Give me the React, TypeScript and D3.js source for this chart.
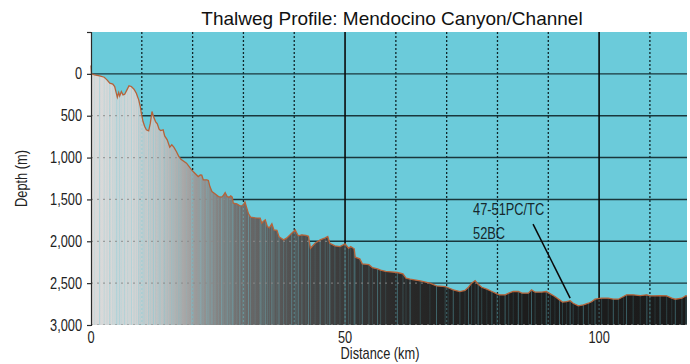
import React, { useEffect, useRef } from 'react';
import * as d3 from 'd3';

// thalweg profile (distance km / depth m)
const DIST_KM: number[] = [
  0, 0.1, 0.7, 1.7, 2.6, 3.15, 3.7, 4.3, 4.66, 4.98, 5.18, 5.45, 5.65, 5.97, 6.3, 6.63, 7.15, 7.48, 7.94, 8.46,
  8.92, 9.39, 9.7, 9.9, 10.24, 10.57, 10.89, 11.35, 11.68, 12.0, 12.3, 12.7, 13.05, 13.4, 13.7, 14.2, 14.5, 15.0,
  15.5, 15.9, 16.3, 16.8, 17.3, 17.7, 18.8, 19.8, 20.1, 21.1, 21.5, 21.8, 22.1, 22.8, 23.1, 23.4, 23.8, 24.4, 25.1,
  25.7, 26.0, 26.4, 26.8, 27.2, 27.5, 27.8, 28.0, 28.7, 29.3, 29.9, 30.3, 31.0, 31.4, 32.3, 33.3, 33.6, 33.9, 34.3,
  34.7, 35.1, 35.6, 36.0, 36.6, 37.0, 37.9, 38.5, 39.5, 40.2, 40.5, 40.8, 41.5, 42.3, 42.8, 43.2, 44.1, 45.1, 46.1,
  46.6, 47.0, 48.0, 49.0, 50.0, 50.7, 51.1, 51.8, 52.0, 52.9, 53.4, 54.7, 55.4, 56.4, 57.0, 58.0, 60.3, 61.4, 62.0,
  62.8, 64.8, 66.7, 68.0, 69.7, 70.3, 71.3, 72.6, 73.6, 74.3, 74.9, 75.6, 76.2, 76.9, 77.9, 78.9, 79.9, 80.4, 81.5,
  82.2, 83.1, 84.1, 84.8, 86.1, 86.7, 87.4, 88.7, 89.6, 90.4, 91.3, 92.2, 92.8, 93.6, 94.3, 94.9, 95.9, 96.9, 97.9,
  98.6, 99.2, 100.5, 101.8, 102.8, 103.8, 104.8, 105.4, 106.7, 108.1, 109.4, 110.0, 111.0, 112.0, 113.3, 114.3,
  115.0, 116.3, 117.0, 117.3,
];
const DEPTH_M: number[] = [
  -100, 0, 12, 24, 40, 72, 111, 123, 151, 231, 279, 223, 263, 211, 251, 243, 183, 143, 151, 183,
  231, 311, 390, 470, 570, 629, 669, 681, 589, 450, 510, 570, 597, 661, 677, 669, 741, 788,
  876, 848, 876, 928, 988, 1019, 1067, 1147, 1167, 1227, 1207, 1210, 1266, 1266, 1274, 1346, 1406, 1433, 1466,
  1473, 1457, 1418, 1466, 1473, 1457, 1473, 1545, 1553, 1577, 1575, 1530, 1672, 1712, 1720, 1724, 1784, 1764, 1744,
  1824, 1840, 1790, 1864, 1870, 1945, 1983, 1963, 1903, 1864, 1903, 1935, 1923, 1930, 1940, 2083, 2023, 1983, 1960,
  1943, 2023, 2055, 2063, 2031, 2083, 2063, 2090, 2190, 2210, 2270, 2280, 2315, 2330, 2345, 2360, 2373, 2390, 2440,
  2453, 2473, 2501, 2533, 2541, 2555, 2580, 2600, 2588, 2549, 2501, 2469, 2513, 2549, 2572, 2600, 2628, 2640, 2640,
  2620, 2600, 2600, 2620, 2620, 2580, 2608, 2608, 2600, 2628, 2660, 2700, 2727, 2720, 2710, 2740, 2771, 2760, 2740,
  2720, 2692, 2680, 2680, 2692, 2692, 2660, 2640, 2640, 2648, 2640, 2652, 2652, 2648, 2652, 2680,
  2692, 2680, 2652, 2652,
];

const Y_TICKS = [0, 500, 1000, 1500, 2000, 2500, 3000];
const X_TICKS = [0, 50, 100];
const X_GRID = [10, 20, 30, 40, 50, 60, 70, 80, 90, 100, 110];
const SOLID_X = [50, 100];
const H_GRID = [0, 500, 1000, 1500, 2000, 2500];
const CORE_LABELS = ['47-51PC/TC', '52BC'];

// no condensed face installed, so squeeze Liberation Sans horizontally
const FONT = '"Liberation Sans", Arial, sans-serif';
const SQUEEZE = 0.8;

export default function App() {
  const ref = useRef<SVGSVGElement>(null);

  useEffect(() => {
    const el = ref.current;
    if (!el) return;
    const svg = d3.select(el);
    svg.selectAll('*').remove();

    const narrow = (
      parent: d3.Selection<any, any, any, any>,
      px: number,
      py: number,
      str: string,
      anchor = 'start',
      rotate = 0
    ) =>
      parent
        .append('g')
        .attr('transform', `translate(${px},${py}) rotate(${rotate}) scale(${SQUEEZE},1)`)
        .append('text')
        .attr('text-anchor', anchor)
        .attr('fill', '#222')
        .attr('font-size', 16)
        .attr('font-family', FONT)
        .text(str);

    const data = DIST_KM.map((km, i) => ({ km, depth: DEPTH_M[i] }));
    const x = d3.scaleLinear().domain([0, 117.3]).range([91, 687]);
    const y = d3.scaleLinear().domain([-500, 3000]).range([32, 325]);
    const [x0, x1] = x.range();
    const [yTop, yBot] = y.range();

    const defs = svg.append('defs');
    const grad = defs
      .append('linearGradient')
      .attr('id', 'fillGrad')
      .attr('gradientUnits', 'userSpaceOnUse')
      .attr('x1', x0)
      .attr('x2', x1)
      .attr('y1', 0)
      .attr('y2', 0);
    const stops: [number, string][] = [
      [0, '#dadada'], [8, '#d5d5d5'], [14, '#c0c0c0'], [20, '#9e9e9e'], [25, '#838383'], [30, '#6b6b6b'],
      [38, '#555555'], [45, '#444444'], [52, '#363636'], [60, '#2b2b2b'], [70, '#222222'], [85, '#1d1d1d'], [117.3, '#1b1b1b'],
    ];
    stops.forEach(([k, c]) => grad.append('stop').attr('offset', k / 117.3).attr('stop-color', c));

    const area = d3
      .area<{ km: number; depth: number }>()
      .x((d) => x(d.km))
      .y0(y(3000))
      .y1((d) => y(d.depth));
    const line = d3
      .line<{ km: number; depth: number }>()
      .x((d) => x(d.km))
      .y((d) => y(d.depth));

    defs.append('clipPath').attr('id', 'areaClip').append('path').attr('d', area(data) ?? '');

    // water background
    svg.append('rect').attr('x', x0).attr('y', yTop).attr('width', x1 - x0).attr('height', yBot - yTop).attr('fill', '#6bcbda');

    // grid over water
    svg
      .append('g')
      .selectAll('line')
      .data(H_GRID)
      .join('line')
      .attr('x1', x0)
      .attr('x2', x1)
      .attr('y1', (d) => y(d))
      .attr('y2', (d) => y(d))
      .attr('stroke', '#0c1d20')
      .attr('stroke-opacity', 0.85)
      .attr('stroke-width', 1.4);
    svg
      .append('g')
      .selectAll('line')
      .data(X_GRID)
      .join('line')
      .attr('x1', (d) => x(d))
      .attr('x2', (d) => x(d))
      .attr('y1', yTop)
      .attr('y2', yBot)
      .attr('stroke', (d) => (SOLID_X.includes(d) ? '#0a0a0a' : '#10262a'))
      .attr('stroke-width', (d) => (SOLID_X.includes(d) ? 1.6 : 1.3))
      .attr('stroke-dasharray', (d) => (SOLID_X.includes(d) ? null : '2,2'));

    // seafloor fill
    svg.append('path').attr('d', area(data) ?? '').attr('fill', 'url(#fillGrad)');

    // stripes + faint grid inside the fill
    const inner = svg.append('g').attr('clip-path', 'url(#areaClip)');
    inner
      .selectAll('line.stripe')
      .data(data)
      .join('line')
      .attr('class', 'stripe')
      .attr('x1', (d) => x(d.km))
      .attr('x2', (d) => x(d.km))
      .attr('y1', yTop)
      .attr('y2', yBot)
      .attr('stroke', '#6bcbda')
      .attr('stroke-opacity', (d, i) => (i % 3 === 0 ? 0.38 : i % 3 === 1 ? 0.22 : 0.14))
      .attr('stroke-width', 1);
    inner
      .selectAll('line.hg')
      .data(Y_TICKS)
      .join('line')
      .attr('class', 'hg')
      .attr('x1', x0)
      .attr('x2', x1)
      .attr('y1', (d) => y(d))
      .attr('y2', (d) => y(d))
      .attr('stroke', '#8a8a8a')
      .attr('stroke-opacity', 0.75)
      .attr('stroke-width', 1.3)
      .attr('stroke-dasharray', '2,4');
    inner
      .selectAll('line.vg')
      .data(X_GRID)
      .join('line')
      .attr('class', 'vg')
      .attr('x1', (d) => x(d))
      .attr('x2', (d) => x(d))
      .attr('y1', yTop)
      .attr('y2', yBot)
      .attr('stroke', '#6bcbda')
      .attr('stroke-opacity', 0.35)
      .attr('stroke-width', 1.2)
      .attr('stroke-dasharray', '2,2');

    // thalweg line
    svg
      .append('path')
      .attr('d', line(data) ?? '')
      .attr('fill', 'none')
      .attr('stroke', '#b5633a')
      .attr('stroke-width', 1.3);

    // y axis
    const yAxis = d3
      .axisLeft(y)
      .tickValues([-500, ...Y_TICKS])
      .tickSize(4)
      .tickFormat((d) => (+d < 0 ? '' : d3.format(',')(+d)));
    svg
      .append('g')
      .attr('transform', `translate(${x0},0)`)
      .call(yAxis)
      .call((s) => s.selectAll('path,line').attr('stroke', '#2a2a2a').attr('stroke-width', 1.2))
      .call((s) =>
        s
          .selectAll('text')
          .attr('fill', '#222')
          .attr('font-size', 16)
          .attr('font-family', FONT)
          .attr('x', -9 / SQUEEZE)
          .attr('transform', `scale(${SQUEEZE},1)`)
      );

    // x tick labels
    X_TICKS.forEach((t) => narrow(svg, x(t), 343, String(t), 'middle'));

    narrow(svg, (x0 + x1) / 2 - 9, 359, 'Distance (km)', 'middle');
    narrow(svg, 27, (yTop + yBot) / 2, 'Depth (m)', 'middle', -90);

    svg
      .append('text')
      .attr('x', 392)
      .attr('y', 25)
      .attr('text-anchor', 'middle')
      .attr('fill', '#111')
      .attr('font-size', 19)
      .attr('font-family', FONT)
      .text('Thalweg Profile: Mendocino Canyon/Channel');

    // core annotation
    CORE_LABELS.forEach((lbl, i) =>
      narrow(svg, x(75.2), y(i === 0 ? 1686 : 1971), lbl).attr('fill', '#16282c')
    );
    svg
      .append('line')
      .attr('x1', x(87.0))
      .attr('y1', y(1794))
      .attr('x2', x(94.3))
      .attr('y2', y(2678))
      .attr('stroke', '#0a0a0a')
      .attr('stroke-width', 1.5);
  }, []);

  return (
    <svg
      ref={ref}
      width={690}
      height={364}
      style={{ position: 'absolute', left: 0, top: 0, background: '#fff' }}
    />
  );
}
